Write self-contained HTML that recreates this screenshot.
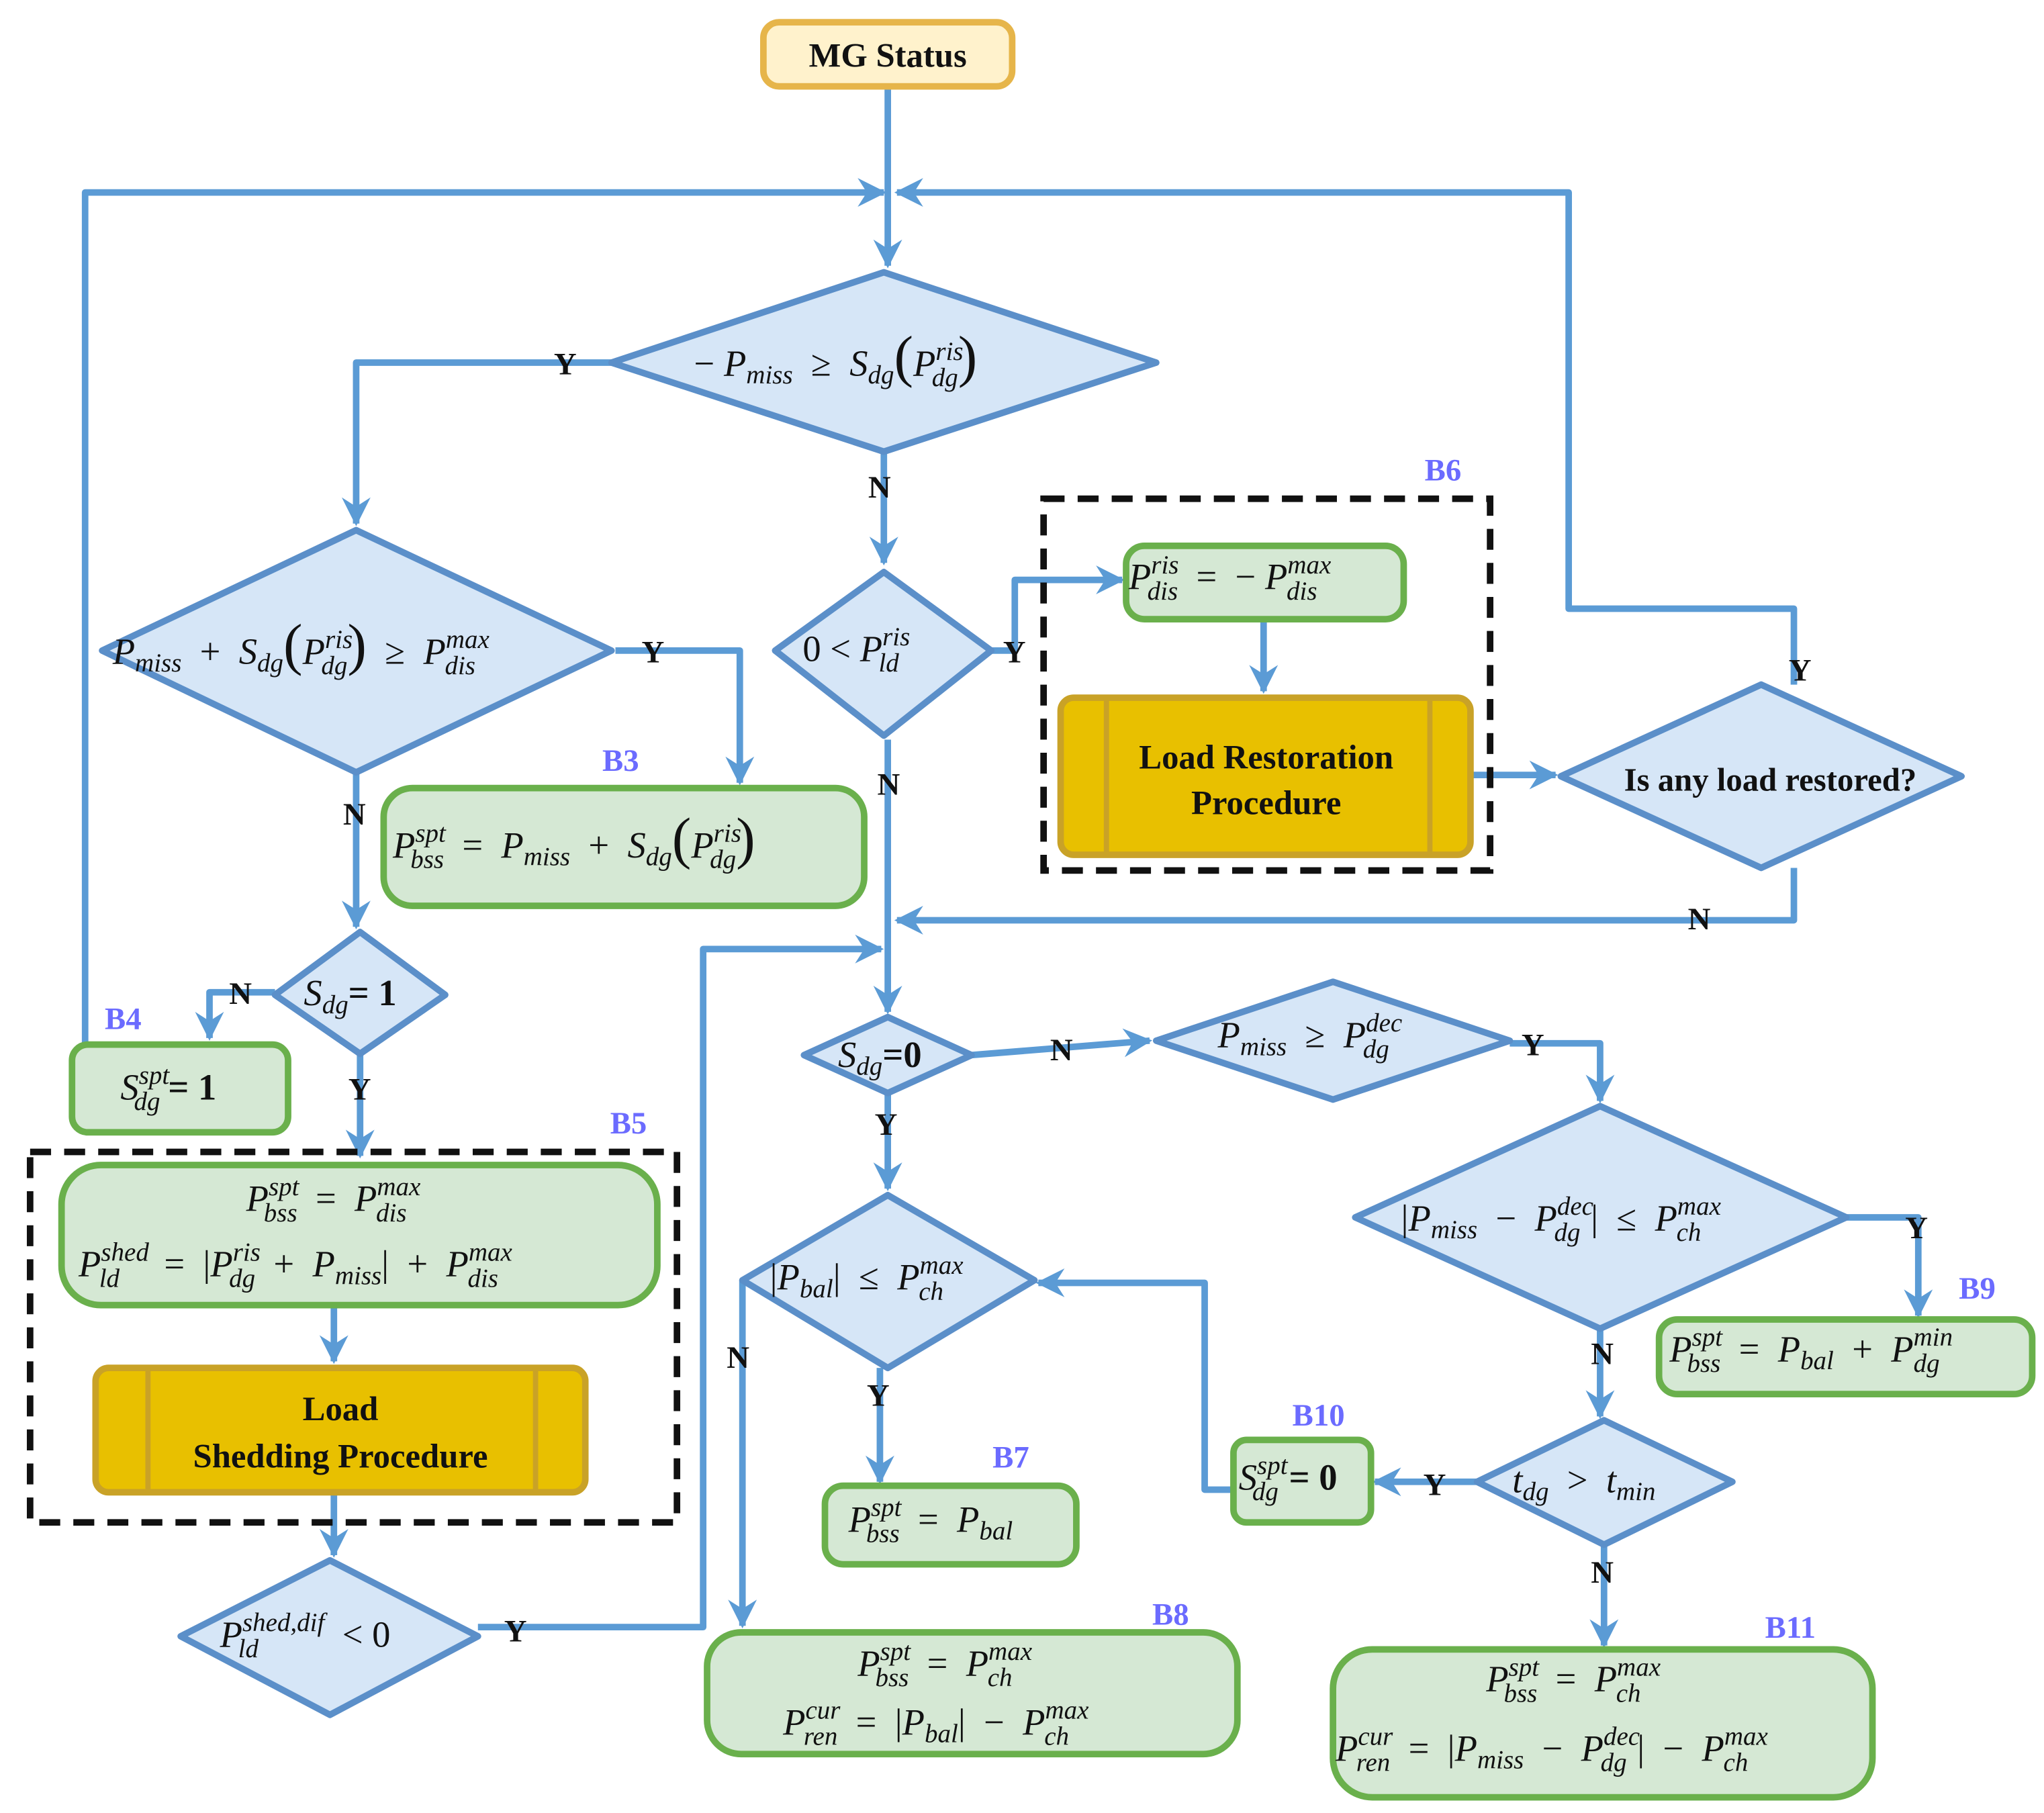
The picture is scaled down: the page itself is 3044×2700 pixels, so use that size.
<!DOCTYPE html>
<html><head><meta charset="utf-8"><style>
html,body{margin:0;padding:0;background:#fff}
svg{display:block}
text{font-family:"Liberation Serif",serif;fill:#111;white-space:pre}
.it{font-style:italic}
.lb{font-weight:bold;font-size:24px}
.bl{font-weight:bold;font-size:24px;fill:#6b6bff}
.s{font-size:20px;font-style:italic}
</style></head><body>
<svg width="3044" height="2700" viewBox="0 0 1561 1385" preserveAspectRatio="none" xmlns="http://www.w3.org/2000/svg">
<defs>
<marker id="a" markerUnits="userSpaceOnUse" markerWidth="26" markerHeight="26" refX="22" refY="13" orient="auto">
<path d="M2,2 L24,13 L2,24 L9,13 Z" fill="#5b9bd5"/>
</marker>
</defs>
<g fill="none" stroke="#5b9bd5" stroke-width="5" stroke-linejoin="round">
<path d="M678,66 V203" marker-end="url(#a)"/>
<path d="M65,800 V147 H675" marker-end="url(#a)"/>
<path d="M1370,523 V465 H1198 V147 H685" marker-end="url(#a)"/>
<path d="M467,277 H272 V400" marker-end="url(#a)"/>
<path d="M470,497 H565 V598" marker-end="url(#a)"/>
<path d="M272,590 V708" marker-end="url(#a)"/>
<path d="M210,758 H160 V793" marker-end="url(#a)"/>
<path d="M275,805 V883" marker-end="url(#a)"/>
<path d="M255,997 V1040" marker-end="url(#a)"/>
<path d="M255,1140 V1188" marker-end="url(#a)"/>
<path d="M365,1243 H537 V725 H673" marker-end="url(#a)"/>
<path d="M675,345 V430" marker-end="url(#a)"/>
<path d="M757,497 H775 V443 H857" marker-end="url(#a)"/>
<path d="M678,565 V773" marker-end="url(#a)"/>
<path d="M965,473 V528" marker-end="url(#a)"/>
<path d="M1125,592 H1188" marker-end="url(#a)"/>
<path d="M1370,663 V703 H685" marker-end="url(#a)"/>
<path d="M742,806 L878,795" marker-end="url(#a)"/>
<path d="M1153,797 H1222 V841" marker-end="url(#a)"/>
<path d="M1410,930 H1465 V1005" marker-end="url(#a)"/>
<path d="M1222,1015 V1082" marker-end="url(#a)"/>
<path d="M1128,1132 H1050" marker-end="url(#a)"/>
<path d="M942,1138 H920 V980 H793" marker-end="url(#a)"/>
<path d="M1225,1180 V1257" marker-end="url(#a)"/>
<path d="M678,835 V908" marker-end="url(#a)"/>
<path d="M567,978 V1242" marker-end="url(#a)"/>
<path d="M672,1045 V1132" marker-end="url(#a)"/>
</g>
<g fill="none" stroke="#111" stroke-width="5" stroke-dasharray="16,10">
<rect x="797" y="381" width="341" height="284"/>
<rect x="23" y="880" width="494" height="283"/>
</g>
<rect x="583" y="17" width="190" height="49" rx="12" fill="#fff2cc" stroke="#e6b54a" stroke-width="5"/>
<text x="678" y="51" text-anchor="middle" class="lb" style="font-size:26px">MG Status</text>
<g fill="#d6e6f7" stroke="#5b8fc9" stroke-width="5" stroke-linejoin="round">
<path d="M675,208 L883,277 L675,345 L467,277 Z"/>
<path d="M272,405 L467,497 L272,590 L78,497 Z"/>
<path d="M275,712 L340,760 L275,805 L210,760 Z"/>
<path d="M252,1192 L365,1250 L252,1310 L138,1250 Z"/>
<path d="M675,437 L757,497 L675,562 L592,497 Z"/>
<path d="M1345,523 L1498,593 L1345,663 L1192,593 Z"/>
<path d="M678,777 L742,806 L678,835 L614,806 Z"/>
<path d="M1018,750 L1153,795 L1018,840 L883,795 Z"/>
<path d="M1222,845 L1410,930 L1222,1015 L1035,930 Z"/>
<path d="M1225,1085 L1323,1132 L1225,1180 L1128,1132 Z"/>
<path d="M678,913 L790,978 L678,1045 L567,978 Z"/>
</g>
<g fill="#d5e8d4" stroke="#6ab04c" stroke-width="5">
<rect x="293" y="602" width="367" height="90" rx="22"/>
<rect x="55" y="798" width="165" height="67" rx="12"/>
<rect x="47" y="890" width="455" height="107" rx="30"/>
<rect x="860" y="417" width="212" height="56" rx="14"/>
<rect x="1267" y="1008" width="285" height="57" rx="14"/>
<rect x="942" y="1100" width="105" height="63" rx="10"/>
<rect x="1018" y="1260" width="412" height="113" rx="30"/>
<rect x="630" y="1135" width="192" height="60" rx="14"/>
<rect x="540" y="1247" width="405" height="93" rx="26"/>
</g>
<g fill="#e8c000" stroke="#c9a227" stroke-width="5">
<rect x="73" y="1045" width="374" height="95" rx="10"/>
<rect x="810" y="533" width="313" height="120" rx="10"/>
</g>
<g stroke="#c9a227" stroke-width="4">
<line x1="113" y1="1045" x2="113" y2="1140"/><line x1="409" y1="1045" x2="409" y2="1140"/>
<line x1="845" y1="533" x2="845" y2="653"/><line x1="1092" y1="533" x2="1092" y2="653"/>
</g>
<text x="260" y="1085" text-anchor="middle" class="lb" style="font-size:26px">Load</text>
<text x="260" y="1121" text-anchor="middle" class="lb" style="font-size:26px">Shedding Procedure</text>
<text x="967" y="587" text-anchor="middle" class="lb" style="font-size:26px">Load Restoration</text>
<text x="967" y="622" text-anchor="middle" class="lb" style="font-size:26px">Procedure</text>
<text x="1352" y="604" text-anchor="middle" class="lb" style="font-size:25px">Is any load restored?</text>
<g class="lb">
<text x="423" y="286">Y</text><text x="490" y="506">Y</text><text x="262" y="630">N</text>
<text x="175" y="767">N</text><text x="266" y="840">Y</text><text x="385" y="1254">Y</text>
<text x="663" y="380">N</text><text x="766" y="506">Y</text><text x="670" y="607">N</text>
<text x="1366" y="520">Y</text><text x="1289" y="710">N</text><text x="802" y="810">N</text>
<text x="1162" y="806">Y</text><text x="1455" y="946">Y</text><text x="1215" y="1042">N</text>
<text x="1087" y="1142">Y</text><text x="1215" y="1209">N</text><text x="668" y="867">Y</text>
<text x="555" y="1045">N</text><text x="662" y="1074">Y</text>
</g>
<text x="1088" y="367" class="bl">B6</text><text x="460" y="589" class="bl">B3</text>
<text x="80" y="786" class="bl">B4</text><text x="466" y="866" class="bl">B5</text>
<text x="758" y="1121" class="bl">B7</text><text x="880" y="1241" class="bl">B8</text>
<text x="1496" y="992" class="bl">B9</text><text x="987" y="1089" class="bl">B10</text>
<text x="1348" y="1251" class="bl">B11</text>
<g font-size="28">
<text x="530" y="287">− <tspan class="it">P</tspan><tspan class="s" dy="6">miss</tspan><tspan dy="-6">  ≥  </tspan><tspan class="it">S</tspan><tspan class="s" dy="6">dg</tspan><tspan dy="-6" font-size="44">(</tspan><tspan class="it">P</tspan><tspan class="s" dy="-12">ris</tspan><tspan class="s" dx="-24" dy="20">dg</tspan><tspan dy="-8" font-size="44">)</tspan></text>
<text x="86" y="507"><tspan class="it">P</tspan><tspan class="s" dy="6">miss</tspan><tspan dy="-6">  +  </tspan><tspan class="it">S</tspan><tspan class="s" dy="6">dg</tspan><tspan dy="-6" font-size="44">(</tspan><tspan class="it">P</tspan><tspan class="s" dy="-12">ris</tspan><tspan class="s" dx="-24" dy="20">dg</tspan><tspan dy="-8" font-size="44">)</tspan><tspan>  ≥  </tspan><tspan class="it">P</tspan><tspan class="s" dy="-12">max</tspan><tspan class="s" dx="-34" dy="20">dis</tspan></text>
<text x="300" y="655"><tspan class="it">P</tspan><tspan class="s" dy="-12">spt</tspan><tspan class="s" dx="-27" dy="20">bss</tspan><tspan dy="-8">  =  </tspan><tspan class="it">P</tspan><tspan class="s" dy="6">miss</tspan><tspan dy="-6">  +  </tspan><tspan class="it">S</tspan><tspan class="s" dy="6">dg</tspan><tspan dy="-6" font-size="44">(</tspan><tspan class="it">P</tspan><tspan class="s" dy="-12">ris</tspan><tspan class="s" dx="-24" dy="20">dg</tspan><tspan dy="-8" font-size="44">)</tspan></text>
<text x="232" y="768"><tspan class="it">S</tspan><tspan class="s" dy="6">dg</tspan><tspan dy="-6" font-weight="bold">= 1</tspan></text>
<text x="92" y="840"><tspan class="it">S</tspan><tspan class="s" dy="-12">spt</tspan><tspan class="s" dx="-27" dy="20">dg</tspan><tspan dy="-8" dx="6" font-weight="bold">= 1</tspan></text>
<text x="188" y="925"><tspan class="it">P</tspan><tspan class="s" dy="-12">spt</tspan><tspan class="s" dx="-27" dy="20">bss</tspan><tspan dy="-8">  =  </tspan><tspan class="it">P</tspan><tspan class="s" dy="-12">max</tspan><tspan class="s" dx="-34" dy="20">dis</tspan></text>
<text x="60" y="975"><tspan class="it">P</tspan><tspan class="s" dy="-12">shed</tspan><tspan class="s" dx="-38" dy="20">ld</tspan><tspan dy="-8" dx="20">  =  |</tspan><tspan class="it">P</tspan><tspan class="s" dy="-12">ris</tspan><tspan class="s" dx="-24" dy="20">dg</tspan><tspan dy="-8">  +  </tspan><tspan class="it">P</tspan><tspan class="s" dy="6">miss</tspan><tspan dy="-6">|  +  </tspan><tspan class="it">P</tspan><tspan class="s" dy="-12">max</tspan><tspan class="s" dx="-34" dy="20">dis</tspan></text>
<text x="168" y="1258"><tspan class="it">P</tspan><tspan class="s" dy="-12">shed,dif</tspan><tspan class="s" dx="-66" dy="20">ld</tspan><tspan dy="-8" dx="50">  &lt; 0</tspan></text>
<text x="613" y="505">0 &lt; <tspan class="it">P</tspan><tspan class="s" dy="-12">ris</tspan><tspan class="s" dx="-24" dy="20">ld</tspan></text>
<text x="862" y="450"><tspan class="it">P</tspan><tspan class="s" dy="-12">ris</tspan><tspan class="s" dx="-24" dy="20">dis</tspan><tspan dy="-8">  =  − </tspan><tspan class="it">P</tspan><tspan class="s" dy="-12">max</tspan><tspan class="s" dx="-34" dy="20">dis</tspan></text>
<text x="640" y="815"><tspan class="it">S</tspan><tspan class="s" dy="6">dg</tspan><tspan dy="-6" font-weight="bold">=0</tspan></text>
<text x="930" y="800"><tspan class="it">P</tspan><tspan class="s" dy="6">miss</tspan><tspan dy="-6">  ≥  </tspan><tspan class="it">P</tspan><tspan class="s" dy="-12">dec</tspan><tspan class="s" dx="-30" dy="20">dg</tspan></text>
<text x="1070" y="940">|<tspan class="it">P</tspan><tspan class="s" dy="6">miss</tspan><tspan dy="-6">  −  </tspan><tspan class="it">P</tspan><tspan class="s" dy="-12">dec</tspan><tspan class="s" dx="-30" dy="20">dg</tspan><tspan dy="-8" dx="8">|  ≤  </tspan><tspan class="it">P</tspan><tspan class="s" dy="-12">max</tspan><tspan class="s" dx="-34" dy="20">ch</tspan></text>
<text x="1275" y="1040"><tspan class="it">P</tspan><tspan class="s" dy="-12">spt</tspan><tspan class="s" dx="-27" dy="20">bss</tspan><tspan dy="-8">  =  </tspan><tspan class="it">P</tspan><tspan class="s" dy="6">bal</tspan><tspan dy="-6">  +  </tspan><tspan class="it">P</tspan><tspan class="s" dy="-12">min</tspan><tspan class="s" dx="-30" dy="20">dg</tspan></text>
<text x="1155" y="1140"><tspan class="it">t</tspan><tspan class="s" dy="6">dg</tspan><tspan dy="-6">  &gt;  </tspan><tspan class="it">t</tspan><tspan class="s" dy="6">min</tspan></text>
<text x="946" y="1138"><tspan class="it">S</tspan><tspan class="s" dy="-12">spt</tspan><tspan class="s" dx="-27" dy="20">dg</tspan><tspan dy="-8" dx="8" font-weight="bold">= 0</tspan></text>
<text x="1135" y="1292"><tspan class="it">P</tspan><tspan class="s" dy="-12">spt</tspan><tspan class="s" dx="-27" dy="20">bss</tspan><tspan dy="-8">  =  </tspan><tspan class="it">P</tspan><tspan class="s" dy="-12">max</tspan><tspan class="s" dx="-34" dy="20">ch</tspan></text>
<text x="1020" y="1345"><tspan class="it">P</tspan><tspan class="s" dy="-12">cur</tspan><tspan class="s" dx="-28" dy="20">ren</tspan><tspan dy="-8">  =  |</tspan><tspan class="it">P</tspan><tspan class="s" dy="6">miss</tspan><tspan dy="-6">  −  </tspan><tspan class="it">P</tspan><tspan class="s" dy="-12">dec</tspan><tspan class="s" dx="-30" dy="20">dg</tspan><tspan dy="-8" dx="8">|  −  </tspan><tspan class="it">P</tspan><tspan class="s" dy="-12">max</tspan><tspan class="s" dx="-34" dy="20">ch</tspan></text>
<text x="588" y="985">|<tspan class="it">P</tspan><tspan class="s" dy="6">bal</tspan><tspan dy="-6">|  ≤  </tspan><tspan class="it">P</tspan><tspan class="s" dy="-12">max</tspan><tspan class="s" dx="-34" dy="20">ch</tspan></text>
<text x="648" y="1170"><tspan class="it">P</tspan><tspan class="s" dy="-12">spt</tspan><tspan class="s" dx="-27" dy="20">bss</tspan><tspan dy="-8">  =  </tspan><tspan class="it">P</tspan><tspan class="s" dy="6">bal</tspan></text>
<text x="655" y="1280"><tspan class="it">P</tspan><tspan class="s" dy="-12">spt</tspan><tspan class="s" dx="-27" dy="20">bss</tspan><tspan dy="-8">  =  </tspan><tspan class="it">P</tspan><tspan class="s" dy="-12">max</tspan><tspan class="s" dx="-34" dy="20">ch</tspan></text>
<text x="598" y="1325"><tspan class="it">P</tspan><tspan class="s" dy="-12">cur</tspan><tspan class="s" dx="-28" dy="20">ren</tspan><tspan dy="-8">  =  |</tspan><tspan class="it">P</tspan><tspan class="s" dy="6">bal</tspan><tspan dy="-6">|  −  </tspan><tspan class="it">P</tspan><tspan class="s" dy="-12">max</tspan><tspan class="s" dx="-34" dy="20">ch</tspan></text>
</g>
</svg>
</body></html>
